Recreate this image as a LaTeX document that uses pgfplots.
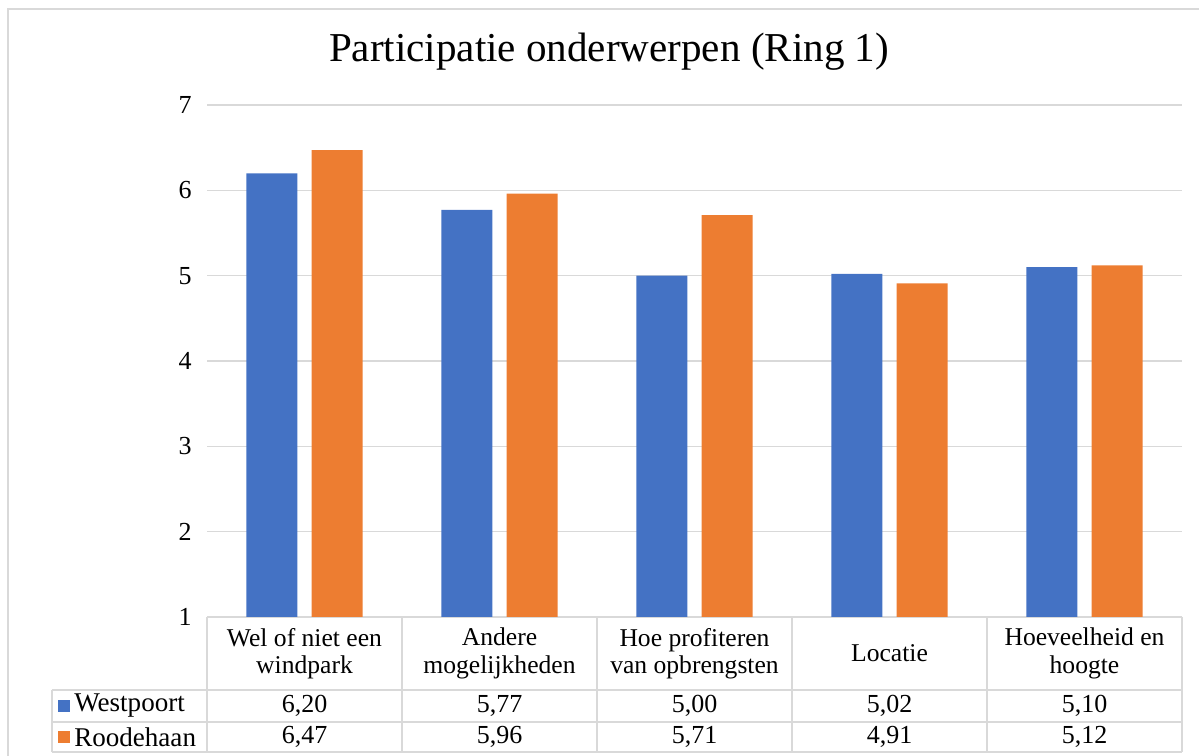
\documentclass[border=0pt]{standalone}
\usepackage{pgfplots}
\pgfplotsset{compat=1.18}
\usepackage{fontspec}
\setmainfont{Liberation Serif}
\definecolor{wpblue}{HTML}{4472C4}
\definecolor{rhorange}{HTML}{ED7D31}
\definecolor{gridgray}{HTML}{D9D9D9}
\begin{document}
\begin{tikzpicture}
\begin{scope}[x=0.75pt,y=-0.75pt,shift={(-207,-617)}]
\useasboundingbox (0,0) rectangle (1199,756);
\draw[gridgray, line width=1.6pt] (8,756) -- (8,9) -- (1199,9);
\node[font=\fontsize{30.8}{34}\selectfont] at (609,52) {Participatie onderwerpen (Ring 1)};
\end{scope}
\begin{axis}[
  at={(0,0)}, anchor=south west,
  scale only axis, width=731.25pt, height=384pt,
  xmin=-0.5, xmax=4.5, ymin=1, ymax=7,
  ytick={1,2,3,4,5,6,7},
  xtick={0,1,2,3,4},
  xticklabels={{Wel of niet een\\windpark},{Andere\\mogelijkheden},{Hoe profiteren\\van opbrengsten},{Locatie},{Hoeveelheid en\\hoogte}},
  xticklabel style={anchor=center, yshift=-27.4pt, align=center, font=\fontsize{19.2}{20.5}\selectfont},
  yticklabel style={anchor=east, xshift=-8pt, font=\fontsize{19.5}{21}\selectfont},
  /pgf/number format/assume math mode=true,
  axis line style={draw=none},
  major tick length=0pt,
  ymajorgrids,
  grid style={gridgray, line width=1.2pt},
  clip=false,
]
\addplot[ybar, bar width=0.262, bar shift=-0.167, fill=wpblue, draw=none]
  coordinates {(0,6.20) (1,5.77) (2,5.00) (3,5.02) (4,5.10)};
\addplot[ybar, bar width=0.262, bar shift=0.167, fill=rhorange, draw=none]
  coordinates {(0,6.47) (1,5.96) (2,5.71) (3,4.91) (4,5.12)};
\end{axis}
\begin{scope}[x=0.75pt,y=-0.75pt,shift={(-207,-617)}]
\draw[gridgray, line width=1.4pt] (52,690) -- (1182,690);
\draw[gridgray, line width=1.4pt] (52,722) -- (1182,722);
\draw[gridgray, line width=1.4pt] (52,752) -- (1182,752);
\draw[gridgray, line width=1.4pt] (52,690) -- (52,752);
\foreach \xx in {207,402,597,792,987,1182}
  \draw[gridgray, line width=1.4pt] (\xx,617) -- (\xx,752);
\fill[wpblue] (58,700) rectangle (70,712);
\fill[rhorange] (58,731) rectangle (70,743);
\begin{scope}[every node/.style={font=\fontsize{20.3}{22}\selectfont}]
\node[anchor=west, inner sep=0pt] at (74,706) {Westpoort};
\node[anchor=west, inner sep=0pt] at (74,737) {Roodehaan};
\end{scope}
\begin{scope}[every node/.style={font=\fontsize{19.5}{21}\selectfont}]
\node at (304.5,706) {6,20};
\node at (499.5,706) {5,77};
\node at (694.5,706) {5,00};
\node at (889.5,706) {5,02};
\node at (1084.5,706) {5,10};
\node at (304.5,737) {6,47};
\node at (499.5,737) {5,96};
\node at (694.5,737) {5,71};
\node at (889.5,737) {4,91};
\node at (1084.5,737) {5,12};
\end{scope}
\end{scope}
\end{tikzpicture}
\end{document}
